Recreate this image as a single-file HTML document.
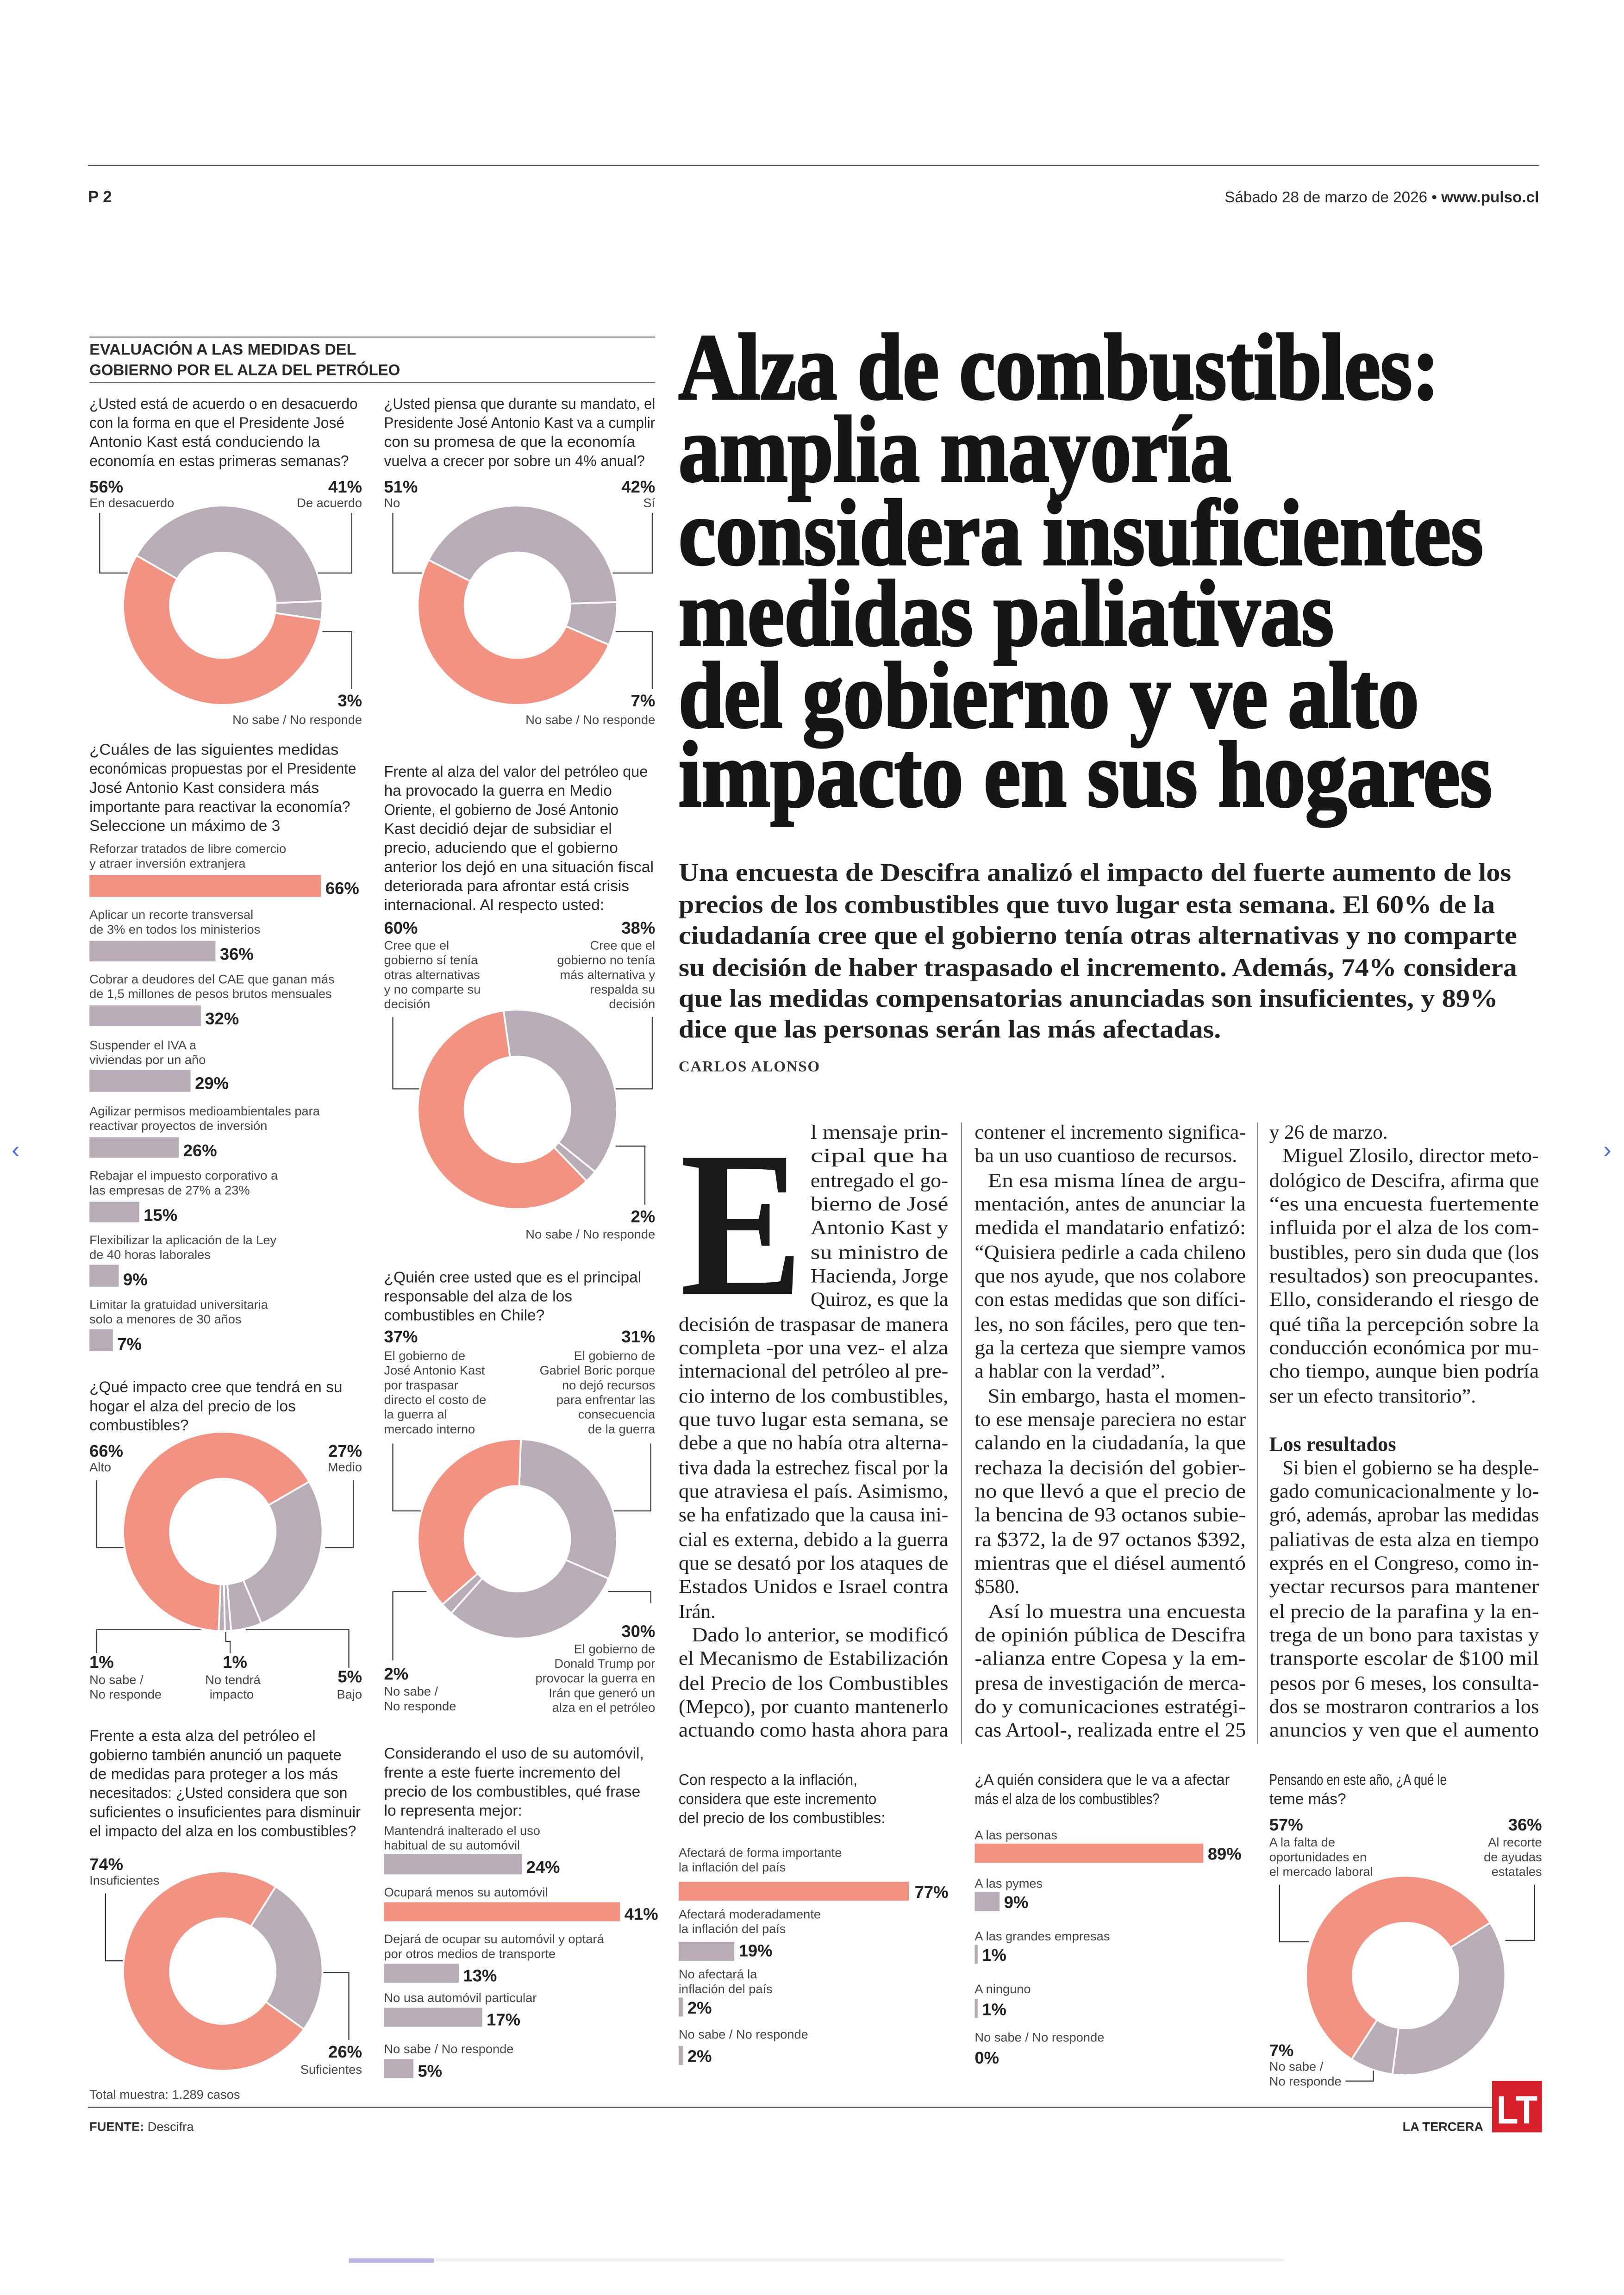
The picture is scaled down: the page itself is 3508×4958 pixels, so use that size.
<!DOCTYPE html>
<html><head><meta charset="utf-8"><style>
html,body{margin:0;padding:0;background:#fff;}
svg{display:block;}
.s{font-family:"Liberation Sans",sans-serif;fill:#2a2a2a;}
.q{font-size:10.6px;}
.l{font-size:8.6px;fill:#444;}
.p{font-size:11.5px;font-weight:bold;fill:#222;}
.b{font-family:"Liberation Serif",serif;font-size:13.6px;fill:#222;}
.n{font-family:"Liberation Sans",sans-serif;}
</style></head><body>
<svg id="sv" width="3508" height="4958" viewBox="0 0 1108 1566" xmlns="http://www.w3.org/2000/svg">
<rect width="1108" height="1566" fill="#fff"/>
<line x1="60" y1="113" x2="1050" y2="113" stroke="#555" stroke-width="0.8"/>
<text x="60" y="138" class="s" style="font-size:11px;font-weight:bold">P 2</text>
<text x="1050" y="138" class="s" text-anchor="end" style="font-size:10.5px">Sábado 28 de marzo de 2026 • <tspan font-weight="bold">www.pulso.cl</tspan></text>

<!-- side arrows -->
<text x="8" y="790" class="s" style="font-size:16px;fill:#4a6fd8">‹</text>
<text x="1094" y="790" class="s" style="font-size:16px;fill:#4a6fd8">›</text>
<rect x="238" y="1541" width="58" height="3" fill="#b9b3e6"/>
<rect x="296" y="1541" width="580" height="2" fill="#f0f0f0"/>

<!-- section header -->
<line x1="61" y1="230" x2="447" y2="230" stroke="#666" stroke-width="0.7"/>
<text x="61" y="242" class="s" style="font-size:10.5px;font-weight:bold" textLength="182" lengthAdjust="spacingAndGlyphs">EVALUACIÓN A LAS MEDIDAS DEL</text>
<text x="61" y="256" class="s" style="font-size:10.5px;font-weight:bold" textLength="212" lengthAdjust="spacingAndGlyphs">GOBIERNO POR EL ALZA DEL PETRÓLEO</text>
<line x1="61" y1="261" x2="447" y2="261" stroke="#666" stroke-width="0.7"/>

<!-- Q1 -->
<g class="s q">
<text x="61" y="279" textLength="183" lengthAdjust="spacingAndGlyphs">¿Usted está de acuerdo o en desacuerdo</text>
<text x="61" y="292" textLength="174" lengthAdjust="spacingAndGlyphs">con la forma en que el Presidente José</text>
<text x="61" y="305">Antonio Kast está conduciendo la</text>
<text x="61" y="318" textLength="177" lengthAdjust="spacingAndGlyphs">economía en estas primeras semanas?</text>
<text x="262" y="279" textLength="185" lengthAdjust="spacingAndGlyphs">¿Usted piensa que durante su mandato, el</text>
<text x="262" y="292" textLength="185" lengthAdjust="spacingAndGlyphs">Presidente José Antonio Kast va a cumplir</text>
<text x="262" y="305">con su promesa de que la economía</text>
<text x="262" y="318" textLength="178" lengthAdjust="spacingAndGlyphs">vuelva a crecer por sobre un 4% anual?</text>
</g>
<text x="61" y="336" class="s p">56%</text><text x="61" y="346" class="s l">En desacuerdo</text>
<text x="247" y="336" class="s p" text-anchor="end">41%</text><text x="247" y="346" class="s l" text-anchor="end">De acuerdo</text>
<text x="247" y="482" class="s p" text-anchor="end">3%</text><text x="247" y="494" class="s l" text-anchor="end">No sabe / No responde</text>
<text x="262" y="336" class="s p">51%</text><text x="262" y="346" class="s l">No</text>
<text x="447" y="336" class="s p" text-anchor="end">42%</text><text x="447" y="346" class="s l" text-anchor="end">Sí</text>
<text x="447" y="482" class="s p" text-anchor="end">7%</text><text x="447" y="494" class="s l" text-anchor="end">No sabe / No responde</text>
<g fill="none" stroke="#333" stroke-width="0.7">
<polyline points="68,350 68,391 92,391"/><polyline points="240,350 240,391 212,391"/><polyline points="240,470 240,431 220,431"/>
<polyline points="268,350 268,391 292,391"/><polyline points="445,350 445,391 418,391"/><polyline points="445,470 445,431 420,431"/>
</g>

<!-- Q3 bars -->
<g class="s q">
<text x="61" y="515" textLength="170" lengthAdjust="spacingAndGlyphs">¿Cuáles de las siguientes medidas</text>
<text x="61" y="528" textLength="182" lengthAdjust="spacingAndGlyphs">económicas propuestas por el Presidente</text>
<text x="61" y="541">José Antonio Kast considera más</text>
<text x="61" y="554" textLength="178" lengthAdjust="spacingAndGlyphs">importante para reactivar la economía?</text>
<text x="61" y="567">Seleccione un máximo de 3</text>
</g>
<g class="s l">
<text x="61" y="582">Reforzar tratados de libre comercio</text><text x="61" y="592">y atraer inversión extranjera</text>
<text x="61" y="627">Aplicar un recorte transversal</text><text x="61" y="637">de 3% en todos los ministerios</text>
<text x="61" y="671">Cobrar a deudores del CAE que ganan más</text><text x="61" y="681">de 1,5 millones de pesos brutos mensuales</text>
<text x="61" y="716">Suspender el IVA a</text><text x="61" y="726">viviendas por un año</text>
<text x="61" y="761">Agilizar permisos medioambientales para</text><text x="61" y="771">reactivar proyectos de inversión</text>
<text x="61" y="805">Rebajar el impuesto corporativo a</text><text x="61" y="815">las empresas de 27% a 23%</text>
<text x="61" y="849">Flexibilizar la aplicación de la Ley</text><text x="61" y="859">de 40 horas laborales</text>
<text x="61" y="893">Limitar la gratuidad universitaria</text><text x="61" y="903">solo a menores de 30 años</text>
</g>
<rect x="61" y="597" width="158" height="15" fill="#f19282"/>
<rect x="61" y="642" width="86" height="14" fill="#b8acb6"/>
<rect x="61" y="686" width="76" height="14" fill="#b8acb6"/>
<rect x="61" y="730" width="69" height="15" fill="#b8acb6"/>
<rect x="61" y="776" width="61" height="14" fill="#b8acb6"/>
<rect x="61" y="820" width="34" height="14" fill="#b8acb6"/>
<rect x="61" y="863" width="20" height="15" fill="#b8acb6"/>
<rect x="61" y="907" width="16" height="15" fill="#b8acb6"/>
<g class="s p">
<text x="222" y="610">66%</text><text x="150" y="655">36%</text><text x="140" y="699">32%</text><text x="133" y="743">29%</text>
<text x="125" y="789">26%</text><text x="98" y="833">15%</text><text x="84" y="877">9%</text><text x="80" y="921">7%</text>
</g>

<!-- Q4 -->
<g class="s q">
<text x="262" y="530" textLength="180" lengthAdjust="spacingAndGlyphs">Frente al alza del valor del petróleo que</text>
<text x="262" y="543">ha provocado la guerra en Medio</text>
<text x="262" y="556" textLength="160" lengthAdjust="spacingAndGlyphs">Oriente, el gobierno de José Antonio</text>
<text x="262" y="569">Kast decidió dejar de subsidiar el</text>
<text x="262" y="582">precio, aduciendo que el gobierno</text>
<text x="262" y="595" textLength="184" lengthAdjust="spacingAndGlyphs">anterior los dejó en una situación fiscal</text>
<text x="262" y="608">deteriorada para afrontar está crisis</text>
<text x="262" y="621">internacional. Al respecto usted:</text>
</g>
<text x="262" y="637" class="s p">60%</text>
<g class="s l"><text x="262" y="648">Cree que el</text><text x="262" y="658">gobierno sí tenía</text><text x="262" y="668">otras alternativas</text><text x="262" y="678">y no comparte su</text><text x="262" y="688">decisión</text></g>
<text x="447" y="637" class="s p" text-anchor="end">38%</text>
<g class="s l" text-anchor="end"><text x="447" y="648">Cree que el</text><text x="447" y="658">gobierno no tenía</text><text x="447" y="668">más alternativa y</text><text x="447" y="678">respalda su</text><text x="447" y="688">decisión</text></g>
<text x="447" y="834" class="s p" text-anchor="end">2%</text><text x="447" y="845" class="s l" text-anchor="end">No sabe / No responde</text>
<g fill="none" stroke="#333" stroke-width="0.7">
<polyline points="268,694 268,743 290,743"/><polyline points="445,694 445,743 420,743"/><polyline points="440,822 440,782 420,782"/>
</g>

<!-- Q5 -->
<g class="s q">
<text x="61" y="950">¿Qué impacto cree que tendrá en su</text>
<text x="61" y="963">hogar el alza del precio de los</text>
<text x="61" y="976">combustibles?</text>
</g>
<text x="61" y="994" class="s p">66%</text><text x="61" y="1004" class="s l">Alto</text>
<text x="247" y="994" class="s p" text-anchor="end">27%</text><text x="247" y="1004" class="s l" text-anchor="end">Medio</text>
<text x="61" y="1138" class="s p">1%</text><text x="61" y="1149" class="s l">No sabe /</text><text x="61" y="1159" class="s l">No responde</text>
<text x="152" y="1138" class="s p">1%</text><text x="140" y="1149" class="s l">No tendrá</text><text x="143" y="1159" class="s l">impacto</text>
<text x="247" y="1148" class="s p" text-anchor="end">5%</text><text x="247" y="1159" class="s l" text-anchor="end">Bajo</text>
<g fill="none" stroke="#333" stroke-width="0.7">
<polyline points="66,1010 66,1056 85,1056"/><polyline points="241,1010 241,1056 222,1056"/>
<polyline points="66,1128 66,1112 150,1112 150,1106"/><polyline points="157,1128 157,1120 154,1120 154,1106"/><polyline points="238,1138 238,1112 168,1112 168,1106"/>
</g>

<!-- Q6 -->
<g class="s q">
<text x="262" y="875">¿Quién cree usted que es el principal</text>
<text x="262" y="888">responsable del alza de los</text>
<text x="262" y="901">combustibles en Chile?</text>
</g>
<text x="262" y="916" class="s p">37%</text>
<g class="s l"><text x="262" y="928">El gobierno de</text><text x="262" y="938">José Antonio Kast</text><text x="262" y="948">por traspasar</text><text x="262" y="958">directo el costo de</text><text x="262" y="968">la guerra al</text><text x="262" y="978">mercado interno</text></g>
<text x="447" y="916" class="s p" text-anchor="end">31%</text>
<g class="s l" text-anchor="end"><text x="447" y="928">El gobierno de</text><text x="447" y="938">Gabriel Boric porque</text><text x="447" y="948">no dejó recursos</text><text x="447" y="958">para enfrentar las</text><text x="447" y="968">consecuencia</text><text x="447" y="978">de la guerra</text></g>
<text x="447" y="1117" class="s p" text-anchor="end">30%</text>
<g class="s l" text-anchor="end"><text x="447" y="1128">El gobierno de</text><text x="447" y="1138">Donald Trump por</text><text x="447" y="1148">provocar la guerra en</text><text x="447" y="1158">Irán que generó un</text><text x="447" y="1168">alza en el petróleo</text></g>
<text x="262" y="1146" class="s p">2%</text><text x="262" y="1157" class="s l">No sabe /</text><text x="262" y="1167" class="s l">No responde</text>
<g fill="none" stroke="#333" stroke-width="0.7">
<polyline points="268,985 268,1031 289,1031"/><polyline points="444,985 444,1031 418,1031"/>
<polyline points="268,1133 268,1086 291,1086"/><polyline points="444,1094 444,1086 415,1086"/>
</g>

<!-- Q7 -->
<g class="s q">
<text x="61" y="1188">Frente a esta alza del petróleo el</text>
<text x="61" y="1201" textLength="172" lengthAdjust="spacingAndGlyphs">gobierno también anunció un paquete</text>
<text x="61" y="1214">de medidas para proteger a los más</text>
<text x="61" y="1227" textLength="176" lengthAdjust="spacingAndGlyphs">necesitados: ¿Usted considera que son</text>
<text x="61" y="1240" textLength="185" lengthAdjust="spacingAndGlyphs">suficientes o insuficientes para disminuir</text>
<text x="61" y="1253" textLength="182" lengthAdjust="spacingAndGlyphs">el impacto del alza en los combustibles?</text>
</g>
<text x="61" y="1276" class="s p">74%</text><text x="61" y="1286" class="s l">Insuficientes</text>
<text x="247" y="1404" class="s p" text-anchor="end">26%</text><text x="247" y="1415" class="s l" text-anchor="end">Suficientes</text>
<text x="61" y="1432" class="s l">Total muestra: 1.289 casos</text>
<g fill="none" stroke="#333" stroke-width="0.7">
<polyline points="72,1292 72,1338 90,1338"/><polyline points="238,1392 238,1346 218,1346"/>
</g>

<!-- Q8 -->
<g class="s q">
<text x="262" y="1200">Considerando el uso de su automóvil,</text>
<text x="262" y="1213">frente a este fuerte incremento del</text>
<text x="262" y="1226">precio de los combustibles, qué frase</text>
<text x="262" y="1239">lo representa mejor:</text>
</g>
<g class="s l">
<text x="262" y="1252">Mantendrá inalterado el uso</text><text x="262" y="1262">habitual de su automóvil</text>
<text x="262" y="1294">Ocupará menos su automóvil</text>
<text x="262" y="1326">Dejará de ocupar su automóvil y optará</text><text x="262" y="1336">por otros medios de transporte</text>
<text x="262" y="1366">No usa automóvil particular</text>
<text x="262" y="1401">No sabe / No responde</text>
</g>
<rect x="262" y="1265" width="94" height="14" fill="#b8acb6"/>
<rect x="262" y="1298" width="161" height="13" fill="#f19282"/>
<rect x="262" y="1340" width="51" height="13" fill="#b8acb6"/>
<rect x="262" y="1370" width="67" height="13" fill="#b8acb6"/>
<rect x="262" y="1405" width="20" height="13" fill="#b8acb6"/>
<g class="s p"><text x="359" y="1278">24%</text><text x="426" y="1310">41%</text><text x="316" y="1352">13%</text><text x="332" y="1382">17%</text><text x="285" y="1417">5%</text></g>

<!-- headline -->
<g style="font-family:'Liberation Serif',serif;font-weight:bold;font-size:64px;fill:#161616;stroke:#161616;stroke-width:1.6" lengthAdjust="spacingAndGlyphs">
<text x="463" y="272" textLength="519" lengthAdjust="spacingAndGlyphs">Alza de combustibles:</text>
<text x="463" y="328" textLength="377" lengthAdjust="spacingAndGlyphs">amplia mayoría</text>
<text x="463" y="385" textLength="549" lengthAdjust="spacingAndGlyphs">considera insuficientes</text>
<text x="463" y="440" textLength="447" lengthAdjust="spacingAndGlyphs">medidas paliativas</text>
<text x="463" y="496" textLength="505" lengthAdjust="spacingAndGlyphs">del gobierno y ve alto</text>
<text x="463" y="550" textLength="555" lengthAdjust="spacingAndGlyphs">impacto en sus hogares</text>
</g>
<g style="font-family:'Liberation Serif',serif;font-weight:bold;font-size:17.5px;fill:#222">
<text x="463" y="601" textLength="568" lengthAdjust="spacingAndGlyphs">Una encuesta de Descifra analizó el impacto del fuerte aumento de los</text>
<text x="463" y="623" textLength="557" lengthAdjust="spacingAndGlyphs">precios de los combustibles que tuvo lugar esta semana. El 60% de la</text>
<text x="463" y="644" textLength="572" lengthAdjust="spacingAndGlyphs">ciudadanía cree que el gobierno tenía otras alternativas y no comparte</text>
<text x="463" y="666" textLength="572" lengthAdjust="spacingAndGlyphs">su decisión de haber traspasado el incremento. Además, 74% considera</text>
<text x="463" y="687" textLength="559" lengthAdjust="spacingAndGlyphs">que las medidas compensatorias anunciadas son insuficientes, y 89%</text>
<text x="463" y="708" textLength="370" lengthAdjust="spacingAndGlyphs">dice que las personas serán las más afectadas.</text>
</g>
<text x="463" y="731" style="font-family:'Liberation Serif',serif;font-weight:bold;font-size:10.5px;fill:#333;letter-spacing:0.5px">CARLOS ALONSO</text>

<line x1="656" y1="766" x2="656" y2="1190" stroke="#888" stroke-width="0.7"/>
<line x1="858" y1="766" x2="858" y2="1190" stroke="#888" stroke-width="0.7"/>
<!-- drop cap -->
<text x="464" y="883" style="font-family:'Liberation Serif',serif;font-weight:bold;font-size:142px;fill:#1a1a1a" textLength="84" lengthAdjust="spacingAndGlyphs">E</text>

<g class="b" lengthAdjust="spacingAndGlyphs">
<text x="553" y="777" textLength="94" lengthAdjust="spacingAndGlyphs">l mensaje prin-</text>
<text x="553" y="793" textLength="94" lengthAdjust="spacingAndGlyphs">cipal que ha</text>
<text x="553" y="810" textLength="94" lengthAdjust="spacingAndGlyphs">entregado el go-</text>
<text x="553" y="826" textLength="94" lengthAdjust="spacingAndGlyphs">bierno de José</text>
<text x="553" y="842" textLength="94" lengthAdjust="spacingAndGlyphs">Antonio Kast y</text>
<text x="553" y="859" textLength="94" lengthAdjust="spacingAndGlyphs">su ministro de</text>
<text x="553" y="875" textLength="94" lengthAdjust="spacingAndGlyphs">Hacienda, Jorge</text>
<text x="553" y="891" textLength="94" lengthAdjust="spacingAndGlyphs">Quiroz, es que la</text>
<text x="463" y="908" textLength="184" lengthAdjust="spacingAndGlyphs">decisión de traspasar de manera</text>
<text x="463" y="924" textLength="184" lengthAdjust="spacingAndGlyphs">completa -por una vez- el alza</text>
<text x="463" y="940" textLength="184" lengthAdjust="spacingAndGlyphs">internacional del petróleo al pre-</text>
<text x="463" y="957" textLength="184" lengthAdjust="spacingAndGlyphs">cio interno de los combustibles,</text>
<text x="463" y="973" textLength="184" lengthAdjust="spacingAndGlyphs">que tuvo lugar esta semana, se</text>
<text x="463" y="989" textLength="184" lengthAdjust="spacingAndGlyphs">debe a que no había otra alterna-</text>
<text x="463" y="1006" textLength="184" lengthAdjust="spacingAndGlyphs">tiva dada la estrechez fiscal por la</text>
<text x="463" y="1022" textLength="184" lengthAdjust="spacingAndGlyphs">que atraviesa el país. Asimismo,</text>
<text x="463" y="1038" textLength="184" lengthAdjust="spacingAndGlyphs">se ha enfatizado que la causa ini-</text>
<text x="463" y="1055" textLength="184" lengthAdjust="spacingAndGlyphs">cial es externa, debido a la guerra</text>
<text x="463" y="1071" textLength="184" lengthAdjust="spacingAndGlyphs">que se desató por los ataques de</text>
<text x="463" y="1087" textLength="184" lengthAdjust="spacingAndGlyphs">Estados Unidos e Israel contra</text>
<text x="463" y="1104">Irán.</text>
<text x="472" y="1120" textLength="175" lengthAdjust="spacingAndGlyphs">Dado lo anterior, se modificó</text>
<text x="463" y="1136" textLength="184" lengthAdjust="spacingAndGlyphs">el Mecanismo de Estabilización</text>
<text x="463" y="1153" textLength="184" lengthAdjust="spacingAndGlyphs">del Precio de los Combustibles</text>
<text x="463" y="1169" textLength="184" lengthAdjust="spacingAndGlyphs">(Mepco), por cuanto mantenerlo</text>
<text x="463" y="1185" textLength="184" lengthAdjust="spacingAndGlyphs">actuando como hasta ahora para</text>

<text x="665" y="777" textLength="185" lengthAdjust="spacingAndGlyphs">contener el incremento significa-</text>
<text x="665" y="793" textLength="179" lengthAdjust="spacingAndGlyphs">ba un uso cuantioso de recursos.</text>
<text x="674" y="810" textLength="176" lengthAdjust="spacingAndGlyphs">En esa misma línea de argu-</text>
<text x="665" y="826" textLength="185" lengthAdjust="spacingAndGlyphs">mentación, antes de anunciar la</text>
<text x="665" y="842" textLength="185" lengthAdjust="spacingAndGlyphs">medida el mandatario enfatizó:</text>
<text x="665" y="859" textLength="185" lengthAdjust="spacingAndGlyphs">“Quisiera pedirle a cada chileno</text>
<text x="665" y="875" textLength="185" lengthAdjust="spacingAndGlyphs">que nos ayude, que nos colabore</text>
<text x="665" y="891" textLength="185" lengthAdjust="spacingAndGlyphs">con estas medidas que son difíci-</text>
<text x="665" y="908" textLength="185" lengthAdjust="spacingAndGlyphs">les, no son fáciles, pero que ten-</text>
<text x="665" y="924" textLength="185" lengthAdjust="spacingAndGlyphs">ga la certeza que siempre vamos</text>
<text x="665" y="940" textLength="130" lengthAdjust="spacingAndGlyphs">a hablar con la verdad”.</text>
<text x="674" y="957" textLength="176" lengthAdjust="spacingAndGlyphs">Sin embargo, hasta el momen-</text>
<text x="665" y="973" textLength="185" lengthAdjust="spacingAndGlyphs">to ese mensaje pareciera no estar</text>
<text x="665" y="989" textLength="185" lengthAdjust="spacingAndGlyphs">calando en la ciudadanía, la que</text>
<text x="665" y="1006" textLength="185" lengthAdjust="spacingAndGlyphs">rechaza la decisión del gobier-</text>
<text x="665" y="1022" textLength="185" lengthAdjust="spacingAndGlyphs">no que llevó a que el precio de</text>
<text x="665" y="1038" textLength="185" lengthAdjust="spacingAndGlyphs">la bencina de 93 octanos subie-</text>
<text x="665" y="1055" textLength="185" lengthAdjust="spacingAndGlyphs">ra $372, la de 97 octanos $392,</text>
<text x="665" y="1071" textLength="185" lengthAdjust="spacingAndGlyphs">mientras que el diésel aumentó</text>
<text x="665" y="1087">$580.</text>
<text x="674" y="1104" textLength="176" lengthAdjust="spacingAndGlyphs">Así lo muestra una encuesta</text>
<text x="665" y="1120" textLength="185" lengthAdjust="spacingAndGlyphs">de opinión pública de Descifra</text>
<text x="665" y="1136" textLength="185" lengthAdjust="spacingAndGlyphs">-alianza entre Copesa y la em-</text>
<text x="665" y="1153" textLength="185" lengthAdjust="spacingAndGlyphs">presa de investigación de merca-</text>
<text x="665" y="1169" textLength="185" lengthAdjust="spacingAndGlyphs">do y comunicaciones estratégi-</text>
<text x="665" y="1185" textLength="185" lengthAdjust="spacingAndGlyphs">cas Artool-, realizada entre el 25</text>

<text x="866" y="777">y 26 de marzo.</text>
<text x="875" y="793" textLength="175" lengthAdjust="spacingAndGlyphs">Miguel Zlosilo, director meto-</text>
<text x="866" y="810" textLength="184" lengthAdjust="spacingAndGlyphs">dológico de Descifra, afirma que</text>
<text x="866" y="826" textLength="184" lengthAdjust="spacingAndGlyphs">“es una encuesta fuertemente</text>
<text x="866" y="842" textLength="184" lengthAdjust="spacingAndGlyphs">influida por el alza de los com-</text>
<text x="866" y="859" textLength="184" lengthAdjust="spacingAndGlyphs">bustibles, pero sin duda que (los</text>
<text x="866" y="875" textLength="184" lengthAdjust="spacingAndGlyphs">resultados) son preocupantes.</text>
<text x="866" y="891" textLength="184" lengthAdjust="spacingAndGlyphs">Ello, considerando el riesgo de</text>
<text x="866" y="908" textLength="184" lengthAdjust="spacingAndGlyphs">qué tiña la percepción sobre la</text>
<text x="866" y="924" textLength="184" lengthAdjust="spacingAndGlyphs">conducción económica por mu-</text>
<text x="866" y="940" textLength="184" lengthAdjust="spacingAndGlyphs">cho tiempo, aunque bien podría</text>
<text x="866" y="957" textLength="141" lengthAdjust="spacingAndGlyphs">ser un efecto transitorio”.</text>
<text x="866" y="990" style="font-weight:bold;font-size:14px">Los resultados</text>
<text x="875" y="1006" textLength="175" lengthAdjust="spacingAndGlyphs">Si bien el gobierno se ha desple-</text>
<text x="866" y="1022" textLength="184" lengthAdjust="spacingAndGlyphs">gado comunicacionalmente y lo-</text>
<text x="866" y="1038" textLength="184" lengthAdjust="spacingAndGlyphs">gró, además, aprobar las medidas</text>
<text x="866" y="1055" textLength="184" lengthAdjust="spacingAndGlyphs">paliativas de esta alza en tiempo</text>
<text x="866" y="1071" textLength="184" lengthAdjust="spacingAndGlyphs">exprés en el Congreso, como in-</text>
<text x="866" y="1087" textLength="184" lengthAdjust="spacingAndGlyphs">yectar recursos para mantener</text>
<text x="866" y="1104" textLength="184" lengthAdjust="spacingAndGlyphs">el precio de la parafina y la en-</text>
<text x="866" y="1120" textLength="184" lengthAdjust="spacingAndGlyphs">trega de un bono para taxistas y</text>
<text x="866" y="1136" textLength="184" lengthAdjust="spacingAndGlyphs">transporte escolar de $100 mil</text>
<text x="866" y="1153" textLength="184" lengthAdjust="spacingAndGlyphs">pesos por 6 meses, los consulta-</text>
<text x="866" y="1169" textLength="184" lengthAdjust="spacingAndGlyphs">dos se mostraron contrarios a los</text>
<text x="866" y="1185" textLength="184" lengthAdjust="spacingAndGlyphs">anuncios y ven que el aumento</text>
</g>

<!-- bottom charts -->
<g class="s q">
<text x="463" y="1218" textLength="122" lengthAdjust="spacingAndGlyphs">Con respecto a la inflación,</text>
<text x="463" y="1231" textLength="135" lengthAdjust="spacingAndGlyphs">considera que este incremento</text>
<text x="463" y="1244" textLength="141" lengthAdjust="spacingAndGlyphs">del precio de los combustibles:</text>
<text x="665" y="1218" textLength="174" lengthAdjust="spacingAndGlyphs">¿A quién considera que le va a afectar</text>
<text x="665" y="1231" textLength="126" lengthAdjust="spacingAndGlyphs">más el alza de los combustibles?</text>
<text x="866" y="1218" textLength="121" lengthAdjust="spacingAndGlyphs">Pensando en este año, ¿A qué le</text>
<text x="866" y="1231">teme más?</text>
</g>
<g class="s l">
<text x="463" y="1267">Afectará de forma importante</text><text x="463" y="1277">la inflación del país</text>
<text x="463" y="1309">Afectará moderadamente</text><text x="463" y="1319">la inflación del país</text>
<text x="463" y="1350">No afectará la</text><text x="463" y="1360">inflación del país</text>
<text x="463" y="1391">No sabe / No responde</text>
<text x="665" y="1255">A las personas</text>
<text x="665" y="1288">A las pymes</text>
<text x="665" y="1324">A las grandes empresas</text>
<text x="665" y="1360">A ninguno</text>
<text x="665" y="1393">No sabe / No responde</text>
</g>
<rect x="463" y="1284" width="157" height="13" fill="#f19282"/>
<rect x="463" y="1325" width="38" height="13" fill="#b8acb6"/>
<rect x="463" y="1363" width="3" height="13" fill="#b8acb6"/>
<rect x="463" y="1396" width="3" height="13" fill="#b8acb6"/>
<rect x="665" y="1258" width="156" height="13" fill="#f19282"/>
<rect x="665" y="1291" width="17" height="13" fill="#b8acb6"/>
<rect x="665" y="1327" width="2" height="13" fill="#b8acb6"/>
<rect x="665" y="1364" width="2" height="13" fill="#b8acb6"/>
<g class="s p">
<text x="624" y="1295">77%</text><text x="504" y="1335">19%</text><text x="469" y="1374">2%</text><text x="469" y="1407">2%</text>
<text x="824" y="1269">89%</text><text x="685" y="1302">9%</text><text x="670" y="1338">1%</text><text x="670" y="1375">1%</text><text x="665" y="1408">0%</text>
</g>
<text x="866" y="1249" class="s p">57%</text>
<g class="s l"><text x="866" y="1260">A la falta de</text><text x="866" y="1270">oportunidades en</text><text x="866" y="1280">el mercado laboral</text></g>
<text x="1052" y="1249" class="s p" text-anchor="end">36%</text>
<g class="s l" text-anchor="end"><text x="1052" y="1260">Al recorte</text><text x="1052" y="1270">de ayudas</text><text x="1052" y="1280">estatales</text></g>
<text x="866" y="1403" class="s p">7%</text><text x="866" y="1413" class="s l">No sabe /</text><text x="866" y="1423" class="s l">No responde</text>
<g fill="none" stroke="#333" stroke-width="0.7">
<polyline points="873,1286 873,1325 893,1325"/><polyline points="1047,1286 1047,1324 1027,1324"/><polyline points="918,1420 937,1420 937,1410"/>
</g>

<!-- footer -->
<line x1="60" y1="1438" x2="1018" y2="1438" stroke="#666" stroke-width="0.8"/>
<text x="61" y="1454" class="s" style="font-size:8.6px;fill:#333"><tspan font-weight="bold">FUENTE:</tspan> Descifra</text>
<text x="1012" y="1454" class="s" text-anchor="end" style="font-size:8.6px;font-weight:bold">LA TERCERA</text>
<rect x="1018" y="1420" width="34" height="35" fill="#d8202a"/>
<text x="1035" y="1449" text-anchor="middle" class="n" style="font-size:27px;font-weight:bold;fill:#fff" textLength="28" lengthAdjust="spacingAndGlyphs">LT</text>
<g id="donuts"></g>
</svg>
<script>
(function(){
var S="#f19282",G="#b8acb6";
var g=document.getElementById("donuts");
function pt(cx,cy,r,a){a=(a-90)*Math.PI/180;return [cx+r*Math.cos(a),cy+r*Math.sin(a)];}
function donut(cx,cy,start,segs,ro,ri){
 ro=ro||68;ri=ri||36;var a=start;
 segs.forEach(function(s){
  var a2=a+s[0]*3.6,large=(a2-a)>180?1:0;
  var p1=pt(cx,cy,ro,a),p2=pt(cx,cy,ro,a2),p3=pt(cx,cy,ri,a2),p4=pt(cx,cy,ri,a);
  var d="M"+p1+" A"+ro+","+ro+" 0 "+large+" 1 "+p2+" L"+p3+" A"+ri+","+ri+" 0 "+large+" 0 "+p4+"Z";
  var e=document.createElementNS("http://www.w3.org/2000/svg","path");
  e.setAttribute("d",d);e.setAttribute("fill",s[1]);e.setAttribute("stroke","#fff");e.setAttribute("stroke-width","1.2");
  g.appendChild(e);a=a2;});
}
donut(152,413,300,[[41,G],[3,G],[56,S]]);
donut(353,413,297,[[42,G],[7,G],[51,S]]);
donut(353,757,352,[[38,G],[2,G],[60,S]]);
donut(152,1045,60,[[27,G],[5,G],[1,G],[1,G],[66,S]]);
donut(353,1050,2,[[31,G],[30,G],[2,G],[37,S]]);
donut(152,1345,32,[[26,G],[74,S]]);
donut(959,1348,58,[[36,G],[7,G],[57,S]]);
})();
</script>
</body></html>
